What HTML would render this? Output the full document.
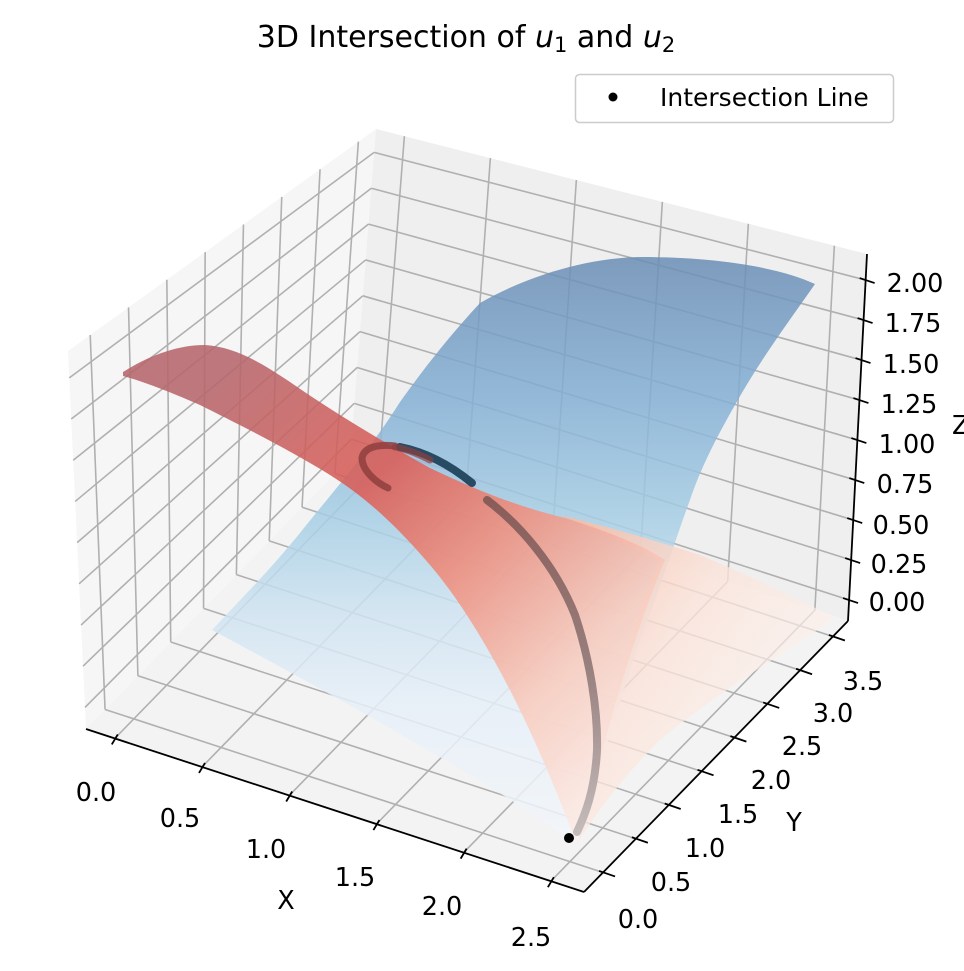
<!DOCTYPE html>
<html><head><meta charset="utf-8">
<style>
html,body{margin:0;padding:0;background:#fff;}
svg{display:block;}
text{font-family:"DejaVu Sans","Liberation Sans",sans-serif;fill:#000;}
</style></head>
<body>
<svg id="s" width="964" height="971" viewBox="0 0 964 971" xmlns="http://www.w3.org/2000/svg">
<defs>
<linearGradient id="gb" gradientUnits="userSpaceOnUse" x1="0" y1="260" x2="0" y2="850">
<stop offset="0" stop-color="#6a8db5"/>
<stop offset="0.25" stop-color="#86b2d6"/>
<stop offset="0.45" stop-color="#a9d0e6"/>
<stop offset="0.6" stop-color="#cfe3f1"/>
<stop offset="0.75" stop-color="#e6eff8"/>
<stop offset="1" stop-color="#f3f6fa"/>
</linearGradient>
<linearGradient id="gr" gradientUnits="userSpaceOnUse" x1="230" y1="370" x2="640" y2="800">
<stop offset="0" stop-color="#b7666b"/>
<stop offset="0.3" stop-color="#db5d57"/>
<stop offset="0.5" stop-color="#ee8c7b"/>
<stop offset="0.75" stop-color="#f8cbbd"/>
<stop offset="1" stop-color="#fdf1ec"/>
</linearGradient>
<linearGradient id="gp" gradientUnits="userSpaceOnUse" x1="560" y1="520" x2="820" y2="700">
<stop offset="0" stop-color="#f6b9a3" stop-opacity="0.9"/>
<stop offset="0.5" stop-color="#fbe3d9" stop-opacity="0.8"/>
<stop offset="1" stop-color="#fdf3ef" stop-opacity="0.6"/>
</linearGradient>
<linearGradient id="gc" gradientUnits="userSpaceOnUse" x1="0" y1="500" x2="0" y2="835">
<stop offset="0" stop-color="#8a5c58"/>
<stop offset="0.5" stop-color="#98807e"/>
<stop offset="1" stop-color="#c4bcbb"/>
</linearGradient>
</defs>
<g id="panes"></g>
<g id="grid"></g>
<g id="surf">
<path d="M480,303 C520,280 580,258 640,257 C720,257 780,268 815,284 C790,320 760,360 735,405 C715,440 700,470 690,500 C675,540 660,590 640,640 C620,700 600,770 576,843 C500,790 380,720 212,630 C240,600 270,570 300,533 C330,495 370,450 400,402 C430,360 455,330 480,303 Z" fill="url(#gb)" opacity="0.85"/>
<path d="M560,515 C620,530 670,545 700,555 C760,580 810,605 835,618 C790,650 720,690 660,740 C620,780 595,815 578,842 C600,760 620,650 660,560 Z" fill="url(#gp)"/>
<path d="M123,372 C150,355 178,345 205,345 C235,347 260,362 290,382 C330,410 380,440 430,468 C480,492 520,507 565,518 C620,535 650,550 665,560 C640,620 615,700 600,760 C590,800 582,825 576,842 C560,800 540,750 515,700 C490,650 460,600 430,565 C400,530 370,500 330,475 C290,450 240,425 200,405 C170,392 145,382 123,376 Z" fill="url(#gr)" opacity="0.88"/>
</g>
<g id="curve" fill="none" stroke-linecap="round">
<path d="M388,488 C375,482 362,470 362,458 C364,447 378,444 395,446" stroke="#8e3e3e" stroke-width="7" opacity="0.85"/>
<path d="M400,447 C425,452 450,465 472,483" stroke="#274b62" stroke-width="8"/>
<path d="M395,447 C410,450 420,455 430,460" stroke="#8e3e3e" stroke-width="7" opacity="0.7"/>
<path d="M487,500 C520,525 555,565 575,615 C590,660 598,710 597,750 C595,790 585,815 577,832" stroke="url(#gc)" stroke-width="8"/>
</g>
<circle cx="569" cy="838" r="5" fill="#000"/>
<g id="axes"></g>
<text x="466" y="47" font-size="30" text-anchor="middle">3D Intersection of <tspan font-style="italic">u</tspan><tspan font-size="21" dy="5">1</tspan><tspan dy="-5"> and </tspan><tspan font-style="italic">u</tspan><tspan font-size="21" dy="5">2</tspan></text>
<rect x="575.5" y="74.5" width="318" height="48" rx="4" fill="#fff" fill-opacity="0.8" stroke="#cccccc" stroke-width="1.5"/>
<circle cx="613" cy="97" r="4.5" fill="#000"/>
<text x="660" y="106" font-size="25">Intersection Line</text>
</svg>
<script>
(function(){
var C={
'000':[86,729],'100':[584,892],'110':[848,621],'010':[350,458],
'011':[376,129],'111':[867,254],'001':[68,351],'101':[578,480]};
function L(a,b,t){return [a[0]+(b[0]-a[0])*t,a[1]+(b[1]-a[1])*t];}
function P(u,v,w){
 var a=L(C['000'],C['100'],u),b=L(C['010'],C['110'],u),c=L(C['001'],C['101'],u),d=L(C['011'],C['111'],u);
 var e=L(a,b,v),f=L(c,d,v);return L(e,f,w);}
function U(x){return (x+0.165)/2.855;}
function V(y){return (y+0.29)/4.02;}
function W(z){return (z+0.131)/2.294;}
var ns='http://www.w3.org/2000/svg';
function el(g,tag,attrs,txt){var e=document.createElementNS(ns,tag);for(var k in attrs)e.setAttribute(k,attrs[k]);if(txt)e.textContent=txt;document.getElementById(g).appendChild(e);return e;}
function poly(g,pts,fill){el(g,'polygon',{points:pts.map(function(p){return p.join(',');}).join(' '),fill:fill});}
poly('panes',[C['000'],C['010'],C['011'],C['001']],'#f6f6f6');
poly('panes',[C['010'],C['110'],C['111'],C['011']],'#efefef');
poly('panes',[C['000'],C['100'],C['110'],C['010']],'#f3f3f3');
function line(g,a,b,col,w){el(g,'line',{x1:a[0],y1:a[1],x2:b[0],y2:b[1],stroke:col,'stroke-width':w});}
var gc='#b0b0b0',gw=1.6;
var xs=[0,0.5,1,1.5,2,2.5],ys=[0,0.5,1,1.5,2,2.5,3,3.5],zs=[0,0.25,0.5,0.75,1,1.25,1.5,1.75,2];
xs.forEach(function(x){var u=U(x);line('grid',P(u,0,0),P(u,1,0),gc,gw);line('grid',P(u,1,0),P(u,1,1),gc,gw);});
ys.forEach(function(y){var v=V(y);line('grid',P(0,v,0),P(1,v,0),gc,gw);line('grid',P(0,v,0),P(0,v,1),gc,gw);});
zs.forEach(function(z){var w=W(z);line('grid',P(0,0,w),P(0,1,w),gc,gw);line('grid',P(0,1,w),P(1,1,w),gc,gw);});
line('axes',C['000'],C['100'],'#000',1.8);
line('axes',C['100'],C['110'],'#000',1.8);
line('axes',C['110'],C['111'],'#000',1.8);
xs.forEach(function(x){var p=P(U(x),0,0);line('axes',[p[0]+3,p[1]-4],[p[0]-3,p[1]+6],'#000',1.8);});
ys.forEach(function(y){var p=P(1,V(y),0);line('axes',[p[0]-4,p[1]-1.5],[p[0]+12,p[1]+4],'#000',1.8);});
zs.forEach(function(z){var p=P(1,1,W(z));line('axes',[p[0]-6,p[1]-2],[p[0]+9,p[1]+3],'#000',1.8);});
var fs=25.5,off=9;
var xl=[[96,792],[180,818],[266,849],[355,877],[442,906],[531,937]];
xs.forEach(function(x,i){el('axes','text',{x:xl[i][0],y:xl[i][1]+off,'font-size':fs,'text-anchor':'middle'},x.toFixed(1));});
var yl=[[638,919],[671,882],[705,848],[738,814],[771,780],[802,746],[833,713],[863,681]];
ys.forEach(function(y,i){el('axes','text',{x:yl[i][0],y:yl[i][1]+off,'font-size':fs,'text-anchor':'middle'},y.toFixed(1));});
var zl=[602,564,525,484,444,404,364,323,283],zx=[897,899,901,905,907,909,911,913,915];
zs.forEach(function(z,i){el('axes','text',{x:zx[i],y:zl[i]+off,'font-size':fs,'text-anchor':'middle'},z.toFixed(2));});
el('axes','text',{x:286,y:909,'font-size':fs,'text-anchor':'middle'},'X');
el('axes','text',{x:794,y:831,'font-size':fs,'text-anchor':'middle'},'Y');
el('axes','text',{x:952,y:434,'font-size':fs},'Z');
})();
</script>
</body></html>
